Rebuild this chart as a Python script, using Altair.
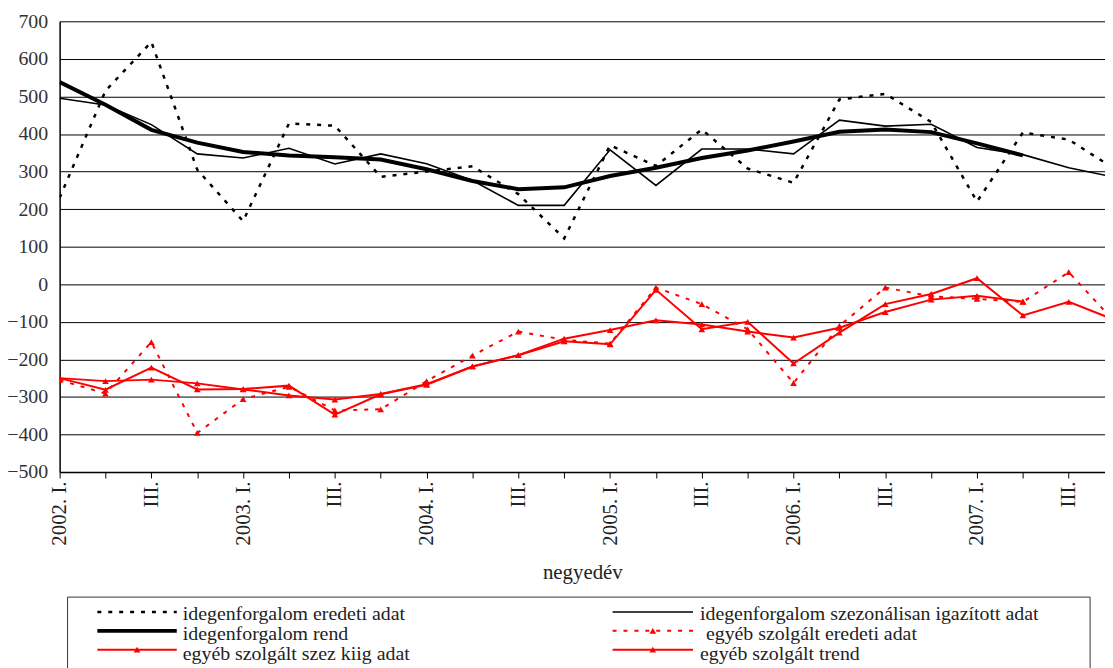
import json
import altair as alt
import pandas as pd

# ---------------- data ----------------
years = [2002, 2003, 2004, 2005, 2006, 2007]
roman = ["I.", "II.", "III.", "IV."]
quarters = []
for y in years:
    for k, r in enumerate(roman):
        quarters.append(f"{y}. {r}" if k == 0 else r)

ideg_eredeti = [230, 515, 645, 305, 168, 428, 422, 286, 300, 314, 240, 122,
                370, 315, 412, 308, 270, 492, 507, 432, 220, 404, 385, 307]
ideg_szez = [495, 477, 425, 347, 336, 362, 320, 347, 321, 276, 210, 210,
             358, 263, 360, 360, 347, 437, 421, 426, 364, 345, 310, 285]
ideg_trend = [538, 478, 411, 377, 352, 343, 338, 332, 306, 275, 253, 258,
              288, 310, 336, 356, 380, 406, 412, 405, 375, 343, None, None]
egyeb_eredeti = [-255, -291, -154, -396, -306, -273, -336, -333, -258, -190, -126, -148,
                 -158, -9, -53, -120, -263, -111, -9, -32, -39, -47, 32, -100]
egyeb_szez = [-250, -281, -222, -280, -279, -270, -347, -293, -268, -219, -189, -152,
              -160, -15, -120, -100, -211, -129, -53, -26, 16, -83, -47, -95]
egyeb_trend = [-250, -258, -254, -264, -280, -296, -307, -292, -266, -219, -189, -145,
               -122, -96, -107, -126, -142, -116, -74, -41, -31, -46, None, None]

series_names = [
    "idegenforgalom eredeti adat",
    "idegenforgalom szezonálisan igazított adat",
    "idegenforgalom rend",
    "egyéb szolgált eredeti adat",
    "egyéb szolgált szez kiig adat",
    "egyéb szolgált trend",
]
series_values = [ideg_eredeti, ideg_szez, ideg_trend, egyeb_eredeti, egyeb_szez, egyeb_trend]

rows = []
for name, vals in zip(series_names, series_values):
    for i, v in enumerate(vals):
        if v is not None:
            rows.append({"idx": i, "series": name, "value": v})
df = pd.DataFrame(rows)

# ---------------- styles ----------------
RED = "#ff0000"
styles = {
    "idegenforgalom eredeti adat": dict(color="#000000", width=2.5, dash=[4, 7], tri=False),
    "idegenforgalom szezonálisan igazított adat": dict(color="#000000", width=1.6, dash=None, tri=False),
    "idegenforgalom rend": dict(color="#000000", width=4, dash=None, tri=False),
    "egyéb szolgált eredeti adat": dict(color=RED, width=2, dash=[4, 7], tri=True),
    "egyéb szolgált szez kiig adat": dict(color=RED, width=2, dash=None, tri=True),
    "egyéb szolgált trend": dict(color=RED, width=2, dash=None, tri=True),
}

FONT = "Liberation Serif"
W, H = 1053, 454
XMAX = 22.79

label_arr = json.dumps(quarters, ensure_ascii=False)

x_enc = alt.X(
    "idx:Q",
    scale=alt.Scale(domain=[0, XMAX], nice=False, zero=False),
    axis=alt.Axis(
        values=list(range(0, 23)),
        labelExpr=f"datum.value % 2 == 0 ? {label_arr}[datum.value] : ''",
        labelAngle=270,
        labelAlign="right",
        labelBaseline="middle",
        labelFont=FONT,
        labelFontSize=21,
        labelColor="#222222",
        labelPadding=3,
        labelOverlap=False,
        labelFlush=False,
        grid=False,
        domainColor="#000000",
        domainWidth=1.5,
        tickColor="#000000",
        tickSize=6,
        tickWidth=1,
        title="negyedév",
        titleFont=FONT,
        titleFontSize=21,
        titleFontWeight="normal",
        titleColor="#222222",
        titleY=101,
        titleBaseline="middle",
    ),
)
y_enc = alt.Y(
    "value:Q",
    scale=alt.Scale(domain=[-500, 700], nice=False, zero=False),
    axis=alt.Axis(
        values=list(range(-500, 701, 100)),
        grid=True,
        gridColor="#000000",
        gridWidth=1,
        ticks=False,
        labelFont=FONT,
        labelFontSize=20,
        labelColor="#333333",
        labelPadding=12,
        domainColor="#000000",
        domainWidth=1.5,
        title="",
    ),
)

base = alt.Chart(df)
layers = []
for name in series_names:
    st = styles[name]
    mk = dict(color=st["color"], strokeWidth=st["width"], clip=True)
    if st["dash"]:
        mk["strokeDash"] = st["dash"]
    layers.append(
        base.transform_filter(alt.datum.series == name)
        .mark_line(**mk)
        .encode(x=x_enc, y=y_enc)
    )
    if st["tri"]:
        layers.append(
            base.transform_filter(alt.datum.series == name)
            .mark_point(shape="triangle-up", filled=True, size=45, color=st["color"],
                        opacity=1, strokeWidth=0, clip=True)
            .encode(x=x_enc, y=y_enc)
        )

# ---------------- manual legend (below plot) ----------------
one = pd.DataFrame({"k": [0]})
leg_layers = [
    alt.Chart(one).mark_rect(fill="white", stroke="#333333", strokeWidth=1).encode(
        x=alt.value(8), x2=alt.value(1038), y=alt.value(580), y2=alt.value(720)
    )
]
col_sym = [(38, 118), (557, 638)]
col_text = [124, 645]
row_sym_y = [595, 614, 633]
row_text_y = [603, 623, 643]
order = [
    (series_names[0], 0, 0), (series_names[1], 0, 1),
    (series_names[2], 1, 0), (series_names[3], 1, 1),
    (series_names[4], 2, 0), (series_names[5], 2, 1),
]
for name, r, c in order:
    st = styles[name]
    rk = dict(color=st["color"], strokeWidth=st["width"])
    if st["dash"]:
        rk["strokeDash"] = st["dash"]
    x0, x1 = col_sym[c]
    leg_layers.append(
        alt.Chart(one).mark_rule(**rk).encode(
            x=alt.value(x0), x2=alt.value(x1), y=alt.value(row_sym_y[r])
        )
    )
    if st["tri"]:
        leg_layers.append(
            alt.Chart(one).mark_point(shape="triangle-up", filled=True, size=45,
                                      color=st["color"], opacity=1, strokeWidth=0).encode(
                x=alt.value((x0 + x1) / 2), y=alt.value(row_sym_y[r])
            )
        )
    tx = col_text[c] + (6 if (r, c) == (1, 1) else 0)
    leg_layers.append(
        alt.Chart(pd.DataFrame({"label": [name]})).mark_text(
            align="left", baseline="alphabetic", font=FONT, fontSize=20, color="#222222"
        ).encode(x=alt.value(tx), y=alt.value(row_text_y[r]), text="label:N")
    )

chart = alt.layer(*(leg_layers + layers)).properties(
    width=W,
    height=H,
    padding={"left": 52, "top": 11, "right": 0, "bottom": 195},
    autosize=alt.AutoSizeParams(type="none"),
    background="white",
).configure_view(strokeWidth=0)

chart.save("out.html", embed_options={"renderer": "svg", "actions": False})
